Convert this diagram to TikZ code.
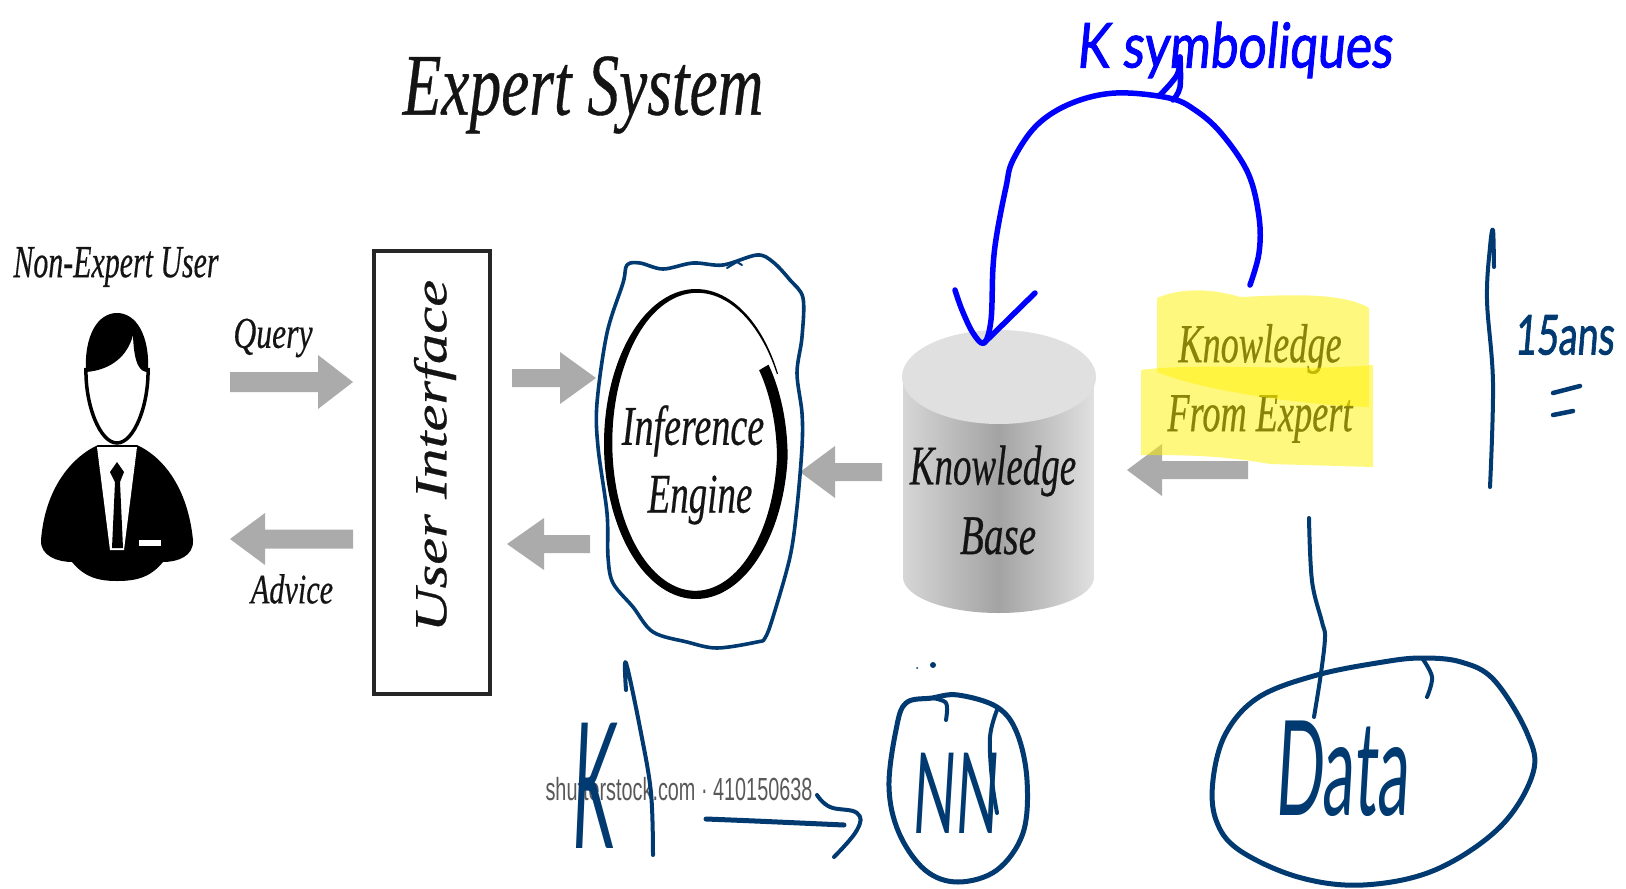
\documentclass[tikz,border=0pt]{standalone}
\usepackage{fontspec}
\setmainfont{Liberation Serif}
\newfontfamily\lsi[FakeBold=0.5]{Liberation Serif Italic}
\newfontfamily\lsans{Liberation Sans}
\newfontfamily\hand[FakeBold=1.6,FakeSlant=0.12]{Lato}
\newfontfamily\handlight[FakeSlant=0.12]{Lato}
\newcommand\fs[1]{\fontsize{#1}{#1}\selectfont}
\definecolor{navy}{HTML}{003A70}
\definecolor{inkblue}{HTML}{0000FF}
\definecolor{arrowgray}{HTML}{ABABAB}
\definecolor{inktext}{HTML}{141414}
\newcommand\garrow[6]{\fill[arrowgray] (#1,#2-#6) -- (#4,#2-#6) -- (#4,#2-#5) -- (#3,#2) -- (#4,#2+#5) -- (#4,#2+#6) -- (#1,#2+#6) -- cycle;}
\tikzset{
  ptxt/.style={text=inktext,inner sep=0pt,transform shape,font=\lsi},
  navyline/.style={draw=navy,line width=4pt,line cap=round,line join=round},
  blueline/.style={draw=inkblue,line width=5.5pt,line cap=round,line join=round},
  handnavy/.style={text=navy,inner sep=0pt,transform shape,font=\hand},
  handthin/.style={text=navy,inner sep=0pt,transform shape,font=\handlight},
  handblue/.style={text=inkblue,inner sep=0pt,transform shape,font=\hand}
}
\begin{document}
\begin{tikzpicture}[x=1pt,y=-1pt]
\useasboundingbox[fill=white] (0,0) rectangle (1626,889);
% title
\node[ptxt,xscale=.72] (title) at (583,95) {\fs{88}Expert System};
% person
\node[ptxt,xscale=.65] (user) at (116,267) {\fs{46}Non-Expert User};
\fill[black] (98,445) .. controls (70,458) and (45,490) .. (41,540) .. controls (40,556) and (58,562) .. (72,562)
  .. controls (85,578) and (100,581) .. (117,581) .. controls (135,581) and (150,578) .. (163,562)
  .. controls (178,562) and (194,556) .. (193,540) .. controls (188,490) and (165,458) .. (137,445) -- cycle;
\fill[white] (97,447) -- (137,447) -- (124,550) -- (110,550) -- cycle;
\fill[black] (117,462) -- (124,472) -- (120,482) -- (123,548) -- (112,548) -- (115,482) -- (110,472) -- cycle;
\fill[white] (139,540) rectangle (161,546);
\draw[black,line width=3.5pt] (86,368) .. controls (85,405) and (100,443) .. (117,443) .. controls (134,443) and (149,405) .. (148,368);
\fill[black] (86,372) .. controls (84,335) and (98,313) .. (117,313) .. controls (136,313) and (150,335) .. (148,372)
  .. controls (140,372) and (134,365) .. (133,335) .. controls (128,355) and (112,370) .. (86,372) -- cycle;
% user interface box
\node[draw=black!85,line width=4pt,minimum width=116pt,minimum height=443pt,inner sep=0pt] (ui) at (432,472.5) {};
\node[ptxt,rotate=90,xscale=1.32] (uitext) at (435,456) {\fs{46}User Interface};
% labels
\node[ptxt,xscale=.72] (query) at (273,338) {\fs{44}Query};
\node[ptxt,xscale=.72] (advice) at (292,589) {\fs{42}Advice};
% gray arrows
\garrow{230}{382}{353}{318}{27}{10}
\garrow{353}{539}{230}{265}{26}{9.5}
\garrow{512}{378}{596}{560}{26}{9}
\garrow{590}{544}{507}{544}{26}{9}
\garrow{882}{472}{800}{835}{26}{9}
% inference engine ring
\fill[black] plot[domain=27:393,samples=150,smooth] ({696+92*(1-0.06*max(0,\x-355)/38)*cos(\x)},{444-155*(1-0.06*max(0,\x-355)/38)*sin(\x)})
  -- plot[domain=393:27,samples=150,smooth] ({696+(92*(1-0.06*max(0,\x-355)/38)-1.2-5*min(1,(\x-27)/120)-5*(\x-27)/366)*cos(\x)},{444-(155*(1-0.06*max(0,\x-355)/38)-1.2-3*min(1,(\x-27)/120)-6*(\x-27)/366)*sin(\x)}) -- cycle;
\node[ptxt,xscale=.68] (inf) at (693,431) {\fs{56}Inference};
\node[ptxt,xscale=.66] (eng) at (700,500) {\fs{56}Engine};
% cylinder
\path[left color=black!16,right color=black!12,middle color=black!36] (903,377) -- (903,577) arc[start angle=180,end angle=0,x radius=95.5,y radius=36] -- (1094,377) -- cycle;
\fill[black!12] (999,377) ellipse[x radius=97,y radius=47];
\node[ptxt,xscale=.66] (kb1) at (993,471) {\fs{56}Knowledge};
\node[ptxt,xscale=.7] (kb2) at (998,536) {\fs{56}Base};
% expert text
\garrow{1248}{470}{1127}{1162}{26}{9}
\node[ptxt,xscale=.66] (ke1) at (1260,349) {\fs{55}Knowledge};
\node[ptxt,xscale=.66] (ke2) at (1260,419) {\fs{55}From Expert};
\fill[yellow,opacity=.5] (1157,298) .. controls (1180,288) and (1210,288) .. (1240,297) .. controls (1270,296) and (1340,290) .. (1369,308) -- (1369,407) .. controls (1300,405) and (1200,390) .. (1157,372) -- cycle;
\fill[yellow,opacity=.5] (1141,370) .. controls (1200,362) and (1300,372) .. (1373,365) -- (1373,467) -- (1270,464) .. controls (1220,455) and (1180,455) .. (1141,455) -- cycle;
% shutterstock
\node[inner sep=0pt,text=black!65,transform shape,xscale=.62,font=\lsans] (shut) at (679,789) {\fs{32}shutterstock.com · 410150638};
% handwriting: engine loop
\draw[navyline,line width=3.6pt] plot[smooth cycle,tension=.55] coordinates {(627,265) (640,263) (663,269) (693,263) (723,265) (757,255) (773,262) (790,280) (803,298) (802,337) (797,373) (802,413) (802,447) (797,507) (790,557) (773,617) (765,638) (757,642) (717,648) (687,642) (653,632) (633,607) (613,583) (608,557) (607,513) (598,447) (597,403) (607,333) (623,283)};
\draw[navyline,line width=2pt] (727,268) -- (737,262) -- (742,265);
% blue arc
\draw[blueline] plot[smooth,tension=.6] coordinates {(1250,285) (1259,253) (1259,217) (1248,173) (1221,133) (1195,110) (1169,98) (1116,93) (1072,103) (1037,125) (1013,160) (1006,187) (997,233) (993,267) (991,320) (984,343) (973,333) (962,310) (955,290)};
\draw[blueline] (984,343) -- (1035,293);
\draw[blueline] plot[smooth,tension=.6] coordinates {(1160,95) (1177,75) (1180,57)};
\draw[blueline] plot[smooth,tension=.6] coordinates {(1173,100) (1180,87) (1180,57)};
\node[handblue,xscale=.8] (ksym) at (1234,50) {\fs{62}K symboliques};
% right-hand line and 15ans
\draw[navyline] plot[smooth,tension=.6] coordinates {(1490,487) (1493,383) (1487,300) (1490,247) (1493,230) (1494,267)};
\node[handnavy,xscale=.75,yscale=1.1] (ans) at (1564,335) {\fs{50}15ans};
\draw[navyline,line width=4.5pt] (1553,393) -- (1580,386);
\draw[navyline,line width=4.5pt] (1553,415) -- (1573,411);
% K and line
\draw[navyline] plot[smooth,tension=.6] coordinates {(626,690) (626,663) (641,733) (651,793) (653,855)};
\node[handthin,xscale=.65,yscale=1.75] (bigk) at (592,786) {\fs{100}K};
% squiggle arrow
\draw[navyline,line width=5pt] plot[smooth,tension=.6] coordinates {(706,819) (755,821) (844,825)};
\draw[navyline] plot[smooth,tension=.7] coordinates {(817,795) (830,807) (857,813) (857,830) (834,857)};
% NN
\draw[navyline,line width=5pt] plot[smooth cycle,tension=.6] coordinates {(932,698) (906,703) (896,730) (889,787) (899,833) (925,870) (958,882) (997,870) (1023,833) (1027,780) (1017,733) (997,707) (958,695)};
\draw[navyline] plot[smooth,tension=.6] coordinates {(932,698) (946,703) (946,720)};
\draw[navyline] plot[smooth,tension=.6] coordinates {(997,710) (990,737) (992,780) (997,813)};
\fill[navy] (933,665) circle[radius=3];
\fill[navy] (917,668) circle[radius=1];
\node[handthin,xscale=.85,yscale=1.7] (nn) at (954,793) {\fs{66}NN};
% Data
\draw[navyline,line width=5pt] plot[smooth cycle,tension=.6] coordinates {(1422,658) (1461,662) (1494,680) (1527,733) (1533,773) (1500,827) (1435,870) (1363,885) (1298,877) (1239,850) (1216,820) (1213,780) (1226,733) (1259,697) (1317,675) (1383,662)};
\draw[navyline] plot[smooth,tension=.6] coordinates {(1422,658) (1432,677) (1427,697)};
\draw[navyline] plot[smooth,tension=.6] coordinates {(1309,518) (1312,581) (1322,622) (1325,637) (1321,673) (1314,717)};
\node[handthin,xscale=.8,yscale=1.65] (data) at (1341,769) {\fs{80}Data};
\end{tikzpicture}
\end{document}
